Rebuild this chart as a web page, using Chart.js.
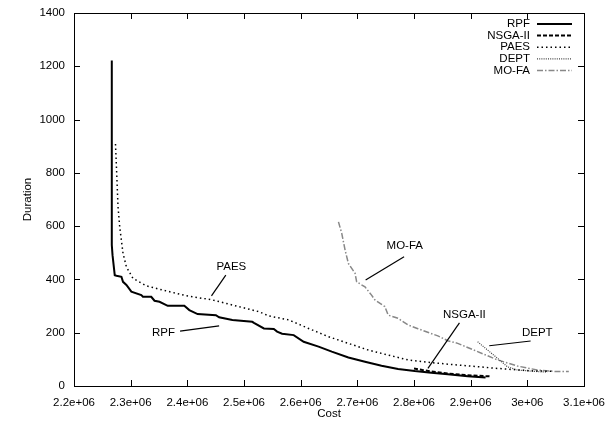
<!DOCTYPE html>
<html>
<head>
<meta charset="utf-8">
<script src="https://cdn.jsdelivr.net/npm/chart.js@4/dist/chart.umd.min.js"></script>
<style>
  html, body { margin: 0; padding: 0; background: #fff; }
  #wrap { width: 610px; height: 421px; }
</style>
</head>
<body>
<div id="wrap"><canvas id="grafico"></canvas></div>
<script>
// valores (Cost, Duration)
const rpfCost = [2266700, 2266700, 2268000, 2271900, 2274900, 2283700, 2286500, 2292500, 2301200, 2318800, 2321600, 2336300, 2342100, 2350900, 2365400, 2394700, 2403500, 2418100, 2450400, 2456100, 2479500, 2514600, 2517500, 2535100, 2552600, 2558400, 2567200, 2587700, 2605300, 2631600, 2654900, 2684200, 2713500, 2742700, 2771900, 2801200, 2830400, 2859600, 2894700, 2926300];
const rpfDur = [1222, 529, 491, 416, 414, 410, 391, 379, 354, 341, 335, 335, 320, 316, 301, 301, 285, 270, 266, 258, 248, 241, 237, 216, 214, 204, 196, 191, 166, 148, 129, 107, 91, 76, 64, 56, 50, 44, 37, 32];

const nsgaCost = [2800000, 2815000, 2830000, 2860000, 2890000, 2935000];
const nsgaDur = [66, 60, 55, 47, 41, 36];

const paesCost = [2273200, 2274900, 2277700, 2280700, 2286500, 2292500, 2304000, 2327500, 2356700, 2397700, 2444400, 2479500, 2526300, 2543900, 2578900, 2614000, 2649100, 2684200, 2719300, 2754400, 2789500, 2824600, 2859600, 2947400, 3005300, 3047400];
const paesDur = [908, 822, 672, 597, 498, 447, 404, 376, 360, 339, 323, 304, 279, 263, 248, 216, 185, 160, 135, 116, 98, 89, 82, 66, 57, 55];

const deptCost = [2912300, 2929800, 2947400, 2964900, 2982500, 3017500, 3035100];
const deptDur = [166, 135, 104, 72, 60, 54, 52];

const mofaCost = [2666700, 2672500, 2678400, 2684200, 2696000, 2698800, 2713500, 2725100, 2731100, 2748600, 2754400, 2771900, 2789500, 2807000, 2842100, 2859600, 2877200, 2912300, 2947400, 2982500, 3017500, 3052600, 3073200];
const mofaDur = [616, 573, 510, 460, 423, 391, 372, 341, 323, 298, 266, 254, 229, 215, 188, 170, 160, 129, 98, 75, 60, 54, 54];

const xTicks = [2200000, 2300000, 2400000, 2500000, 2600000, 2700000, 2800000, 2900000, 3000000, 3100000];
const yTicks = [0, 200, 400, 600, 800, 1000, 1200, 1400];

// rotulos com linha: texto, posicao do texto, inicio e fim da linha
const rotulos = [
  { texto: "PAES", x: 2477700, y: 447, de: [2467900, 416], ate: [2442600, 338] },
  { texto: "RPF", x: 2357900, y: 198, de: [2387200, 206], ate: [2456100, 226] },
  { texto: "MO-FA", x: 2783700, y: 525, de: [2782500, 485], ate: [2714600, 398] },
  { texto: "NSGA-II", x: 2888900, y: 269, de: [2880200, 237], ate: [2824600, 66] },
  { texto: "DEPT", x: 3017500, y: 200, de: [3005800, 169], ate: [2932800, 151] }
];

const FAMILIA = "'Liberation Sans', Arial, sans-serif";
const TAM = 11.5;
const FONTE = TAM + "px " + FAMILIA;

function pontos(xs, ys) {
  return xs.map((x, i) => ({ x: x, y: ys[i] }));
}

function formatarCusto(v) {
  return parseFloat((v / 1e6).toFixed(1)) + "e+06";
}

const series = [
  { label: "RPF", data: pontos(rpfCost, rpfDur), borderColor: "#000", borderWidth: 2, borderDash: [] },
  { label: "NSGA-II", data: pontos(nsgaCost, nsgaDur), borderColor: "#000", borderWidth: 2, borderDash: [4, 2] },
  { label: "PAES", data: pontos(paesCost, paesDur), borderColor: "#000", borderWidth: 1.5, borderDash: [1.5, 3] },
  { label: "DEPT", data: pontos(deptCost, deptDur), borderColor: "#444", borderWidth: 1.2, borderDash: [1, 1.2] },
  { label: "MO-FA", data: pontos(mofaCost, mofaDur), borderColor: "#888", borderWidth: 1.5, borderDash: [6, 2, 1.5, 2] }
];

const moldura = {
  id: "moldura",
  afterDraw(chart) {
    const ctx = chart.ctx;
    const a = chart.chartArea;
    const sx = chart.scales.x;
    const sy = chart.scales.y;

    ctx.save();
    ctx.strokeStyle = "#000";
    ctx.lineWidth = 1;
    ctx.setLineDash([]);
    ctx.strokeRect(Math.round(a.left) + 0.5, Math.round(a.top) + 0.5, Math.round(a.right - a.left), Math.round(a.bottom - a.top));

    ctx.beginPath();
    xTicks.forEach((v) => {
      const px = Math.round(sx.getPixelForValue(v)) + 0.5;
      ctx.moveTo(px, a.bottom);
      ctx.lineTo(px, a.bottom - 6);
      ctx.moveTo(px, a.top);
      ctx.lineTo(px, a.top + 6);
    });
    yTicks.forEach((v) => {
      const py = Math.round(sy.getPixelForValue(v)) + 0.5;
      ctx.moveTo(a.left, py);
      ctx.lineTo(a.left + 6, py);
      ctx.moveTo(a.right, py);
      ctx.lineTo(a.right - 6, py);
    });
    ctx.stroke();

    // rotulos das curvas
    ctx.font = FONTE;
    ctx.fillStyle = "#000";
    ctx.textAlign = "center";
    ctx.textBaseline = "middle";
    rotulos.forEach((r) => {
      ctx.fillText(r.texto, sx.getPixelForValue(r.x), sy.getPixelForValue(r.y));
      ctx.beginPath();
      ctx.lineWidth = 1.2;
      ctx.moveTo(sx.getPixelForValue(r.de[0]), sy.getPixelForValue(r.de[1]));
      ctx.lineTo(sx.getPixelForValue(r.ate[0]), sy.getPixelForValue(r.ate[1]));
      ctx.stroke();
    });

    // legenda no estilo gnuplot
    ctx.textAlign = "right";
    series.forEach((s, i) => {
      const y = a.top + 11 + i * 11.6;
      ctx.fillStyle = "#000";
      ctx.fillText(s.label, a.right - 54, y);
      ctx.beginPath();
      ctx.strokeStyle = s.borderColor;
      ctx.lineWidth = s.borderWidth;
      ctx.setLineDash(s.borderDash);
      ctx.moveTo(a.right - 47, y);
      ctx.lineTo(a.right - 12, y);
      ctx.stroke();
    });
    ctx.restore();
  }
};

new Chart(document.getElementById("grafico"), {
  type: "line",
  data: {
    datasets: series.map((s) => ({
      label: s.label,
      data: s.data,
      borderColor: s.borderColor,
      borderWidth: s.borderWidth,
      borderDash: s.borderDash,
      pointRadius: 0,
      fill: false,
      tension: 0
    }))
  },
  options: {
    responsive: true,
    maintainAspectRatio: false,
    animation: false,
    layout: { padding: { left: 21, right: 26, top: 13, bottom: 0 } },
    plugins: {
      legend: { display: false },
      tooltip: { enabled: false }
    },
    scales: {
      x: {
        type: "linear",
        min: 2200000,
        max: 3100000,
        afterBuildTicks: (scale) => { scale.ticks = xTicks.map((v) => ({ value: v })); },
        afterFit: (scale) => {
          scale.height = 35;
          scale.paddingLeft = 0;
          scale.paddingRight = 0;
        },
        ticks: {
          color: "#000",
          font: { family: FAMILIA, size: TAM },
          padding: 10,
          maxRotation: 0,
          autoSkip: false,
          callback: (v) => formatarCusto(v)
        },
        grid: { display: false, drawTicks: false },
        border: { display: false },
        title: {
          display: true,
          text: "Cost",
          color: "#000",
          font: { family: FAMILIA, size: TAM },
          padding: { top: 0, bottom: 0 }
        }
      },
      y: {
        min: 0,
        max: 1400,
        afterBuildTicks: (scale) => { scale.ticks = yTicks.map((v) => ({ value: v })); },
        afterFit: (scale) => {
          scale.width = 53;
          scale.paddingTop = 0;
          scale.paddingBottom = 0;
        },
        ticks: {
          color: "#000",
          font: { family: FAMILIA, size: TAM },
          padding: 9,
          callback: (v) => String(v)
        },
        grid: { display: false, drawTicks: false },
        border: { display: false },
        title: {
          display: true,
          text: "Duration",
          color: "#000",
          font: { family: FAMILIA, size: TAM },
          padding: { top: 0, bottom: 0 }
        }
      }
    }
  },
  plugins: [moldura]
});
</script>
</body>
</html>
